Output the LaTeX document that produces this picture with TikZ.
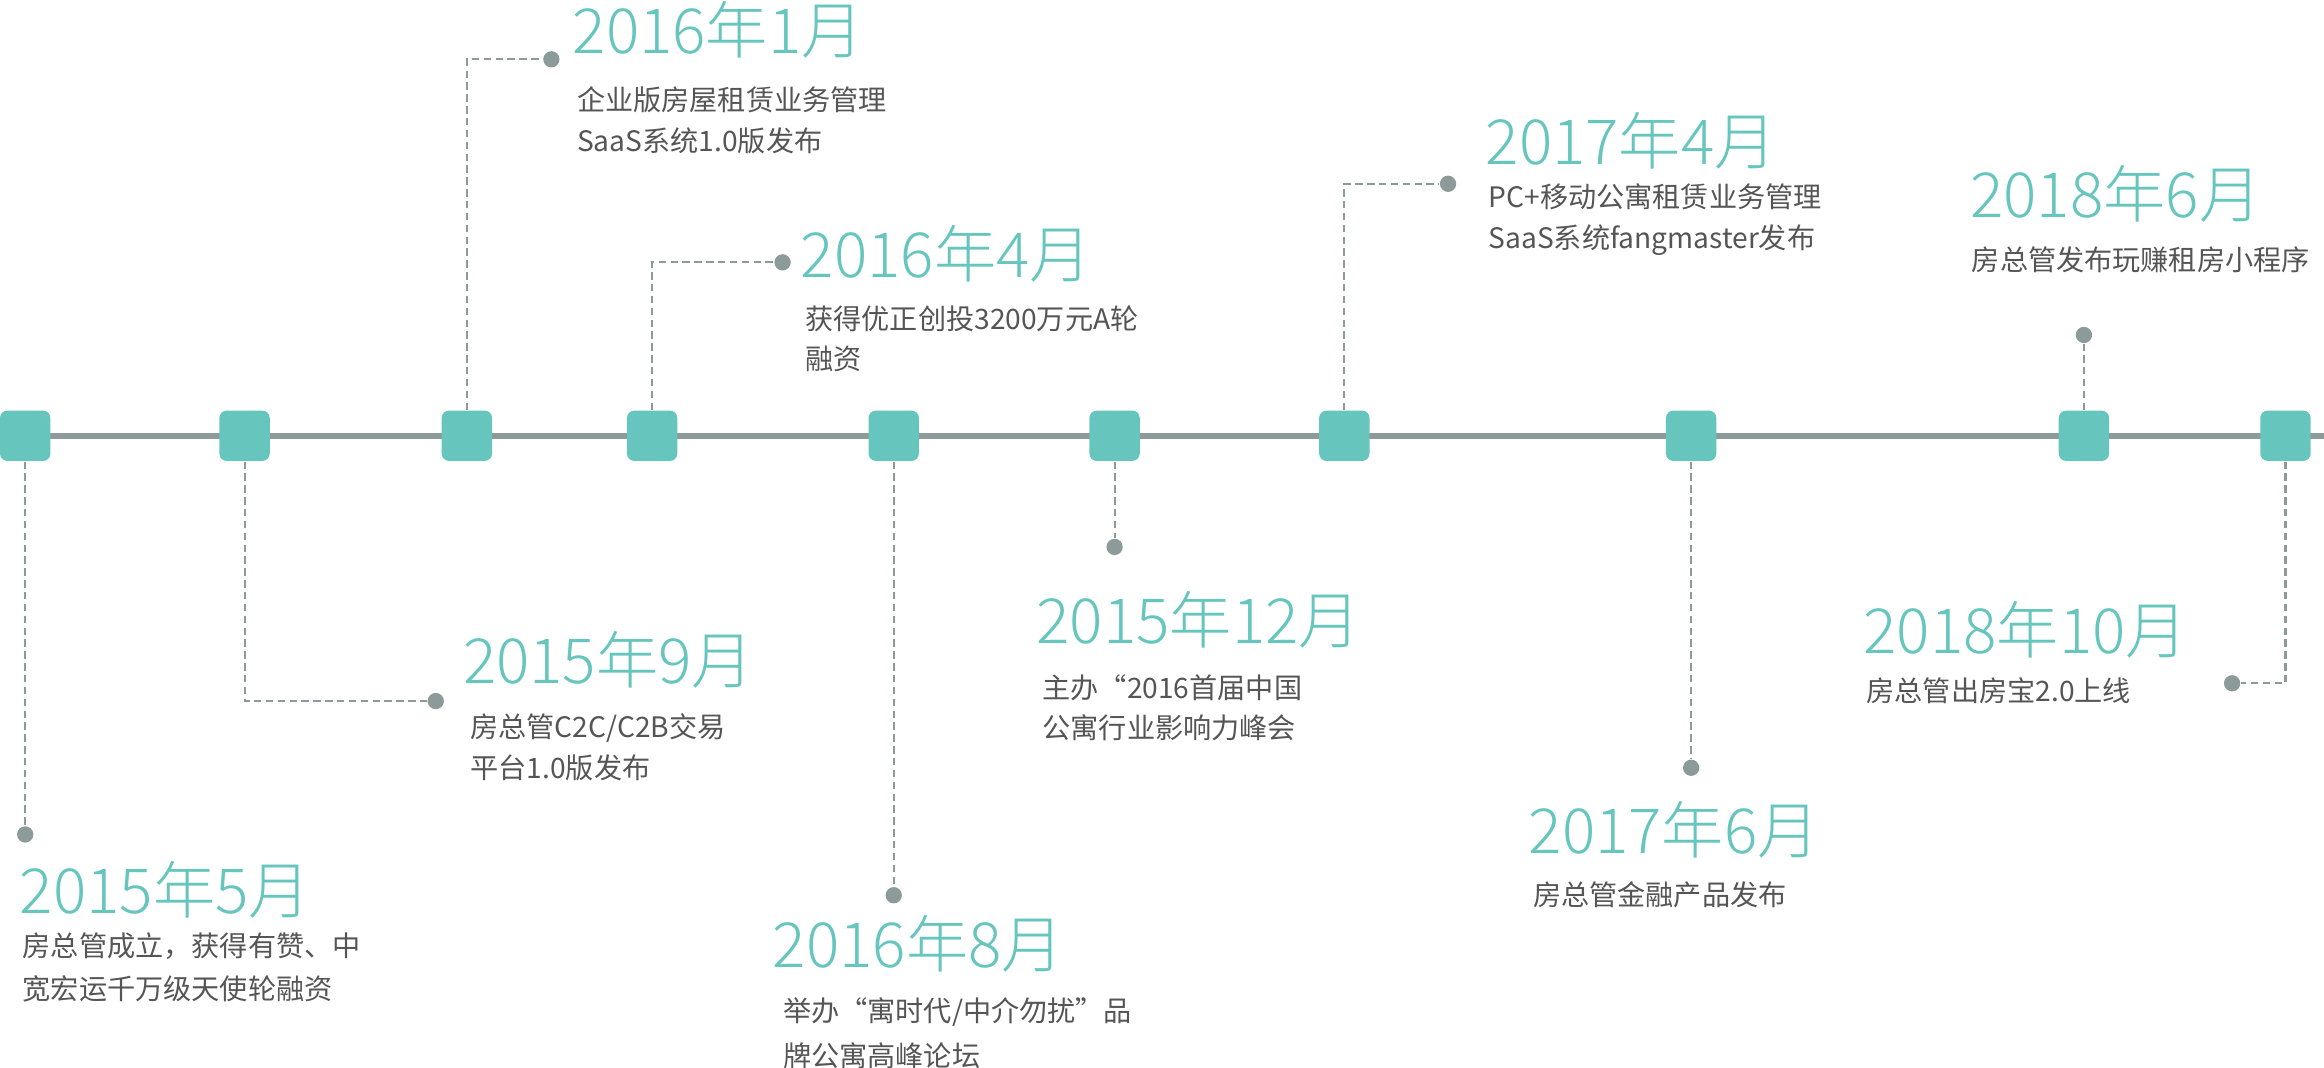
\documentclass[tikz,border=0pt]{standalone}
\usepackage{fontspec}
\setmainfont{Noto Sans CJK SC}
\newfontfamily\titlefont{Noto Sans CJK SC Light}
\definecolor{teal1}{HTML}{66C6BE}
\definecolor{line1}{HTML}{8C9A99}
\definecolor{txt}{HTML}{555555}
\tikzset{
 sq/.style={fill=teal1,rounded corners=2.5pt,minimum size=17pt,inner sep=0},
 dot/.style={circle,fill=line1,minimum size=5.5pt,inner sep=0},
 conn/.style={line1,dashed,line width=0.7pt,dash pattern=on 2.5pt off 1.5pt},
 ttl/.style={anchor=west,inner sep=0,text=teal1,font=\titlefont\fontsize{21}{24}\selectfont},
 bd/.style={anchor=west,inner sep=0,text=txt,font=\fontsize{9.5}{12}\selectfont}
}
\begin{document}
\begin{tikzpicture}[x=0.5pt,y=-0.5pt]
\useasboundingbox (0,0) rectangle (1568,720);
\draw[line1,line width=2pt] (0,294) -- (1568,294);
\foreach \n/\x in {a/17,b/165,c/315,d/440,e/603,f/752,g/907,h/1141,i/1406,j/1542}
  \node[sq] (\n) at (\x,294) {};
% dots
\node[dot] (da) at (17,563) {};
\node[dot] (db) at (294,473) {};
\node[dot] (dc) at (372,40) {};
\node[dot] (dd) at (528,177) {};
\node[dot] (de) at (603,604) {};
\node[dot] (df) at (752,369) {};
\node[dot] (dg) at (977,124) {};
\node[dot] (dh) at (1141,518) {};
\node[dot] (di) at (1406,226) {};
\node[dot] (dj) at (1506,461) {};
\draw[conn] (a) -- (da);
\draw[conn] (b) |- (db);
\draw[conn] (c) |- (dc);
\draw[conn] (d) |- (dd);
\draw[conn] (e) -- (de);
\draw[conn] (f) -- (df);
\draw[conn] (g) |- (dg);
\draw[conn] (h) -- (dh);
\draw[conn] (i) -- (di);
\draw[conn] (j) |- (dj);
% texts
\node[ttl] (ta) at (13,600) {2015年5月};
\node[bd] (ba) at (15,638) {房总管成立，获得有赞、中};
\node[bd] (ba2) at (15,667) {宽宏运千万级天使轮融资};
\node[ttl] (tb) at (312,445) {2015年9月};
\node[bd] (bb) at (317,491) {房总管C2C/C2B交易};
\node[bd] (bb2) at (317,518) {平台1.0版发布};
\node[ttl] (tc) at (386,20) {2016年1月};
\node[bd] (bc) at (389,67) {企业版房屋租赁业务管理};
\node[bd] (bc2) at (389,95) {SaaS系统1.0版发布};
\node[ttl] (td) at (540,171) {2016年4月};
\node[bd] (bd1) at (543,215) {获得优正创投3200万元A轮};
\node[bd] (bd2) at (543,242) {融资};
\node[ttl] (te) at (521,637) {2016年8月};
\node[bd] (be) at (528,683) {举办“寓时代/中介勿扰”品};
\node[bd] (be2) at (528,712) {牌公寓高峰论坛};
\node[ttl] (tf) at (699,418) {2015年12月};
\node[bd] (bf) at (703,464) {主办“2016首届中国};
\node[bd] (bf2) at (703,491) {公寓行业影响力峰会};
\node[ttl] (tg) at (1002,95) {2017年4月};
\node[bd] (bg) at (1004,133) {PC+移动公寓租赁业务管理};
\node[bd] (bg2) at (1004,162) {SaaS系统fangmaster发布};
\node[ttl] (th) at (1031,560) {2017年6月};
\node[bd] (bh) at (1034,604) {房总管金融产品发布};
\node[ttl] (ti) at (1329,131) {2018年6月};
\node[bd] (bi) at (1330,175) {房总管发布玩赚租房小程序};
\node[ttl] (tj) at (1257,425) {2018年10月};
\node[bd] (bj) at (1259,466) {房总管出房宝2.0上线};
\end{tikzpicture}
\end{document}
